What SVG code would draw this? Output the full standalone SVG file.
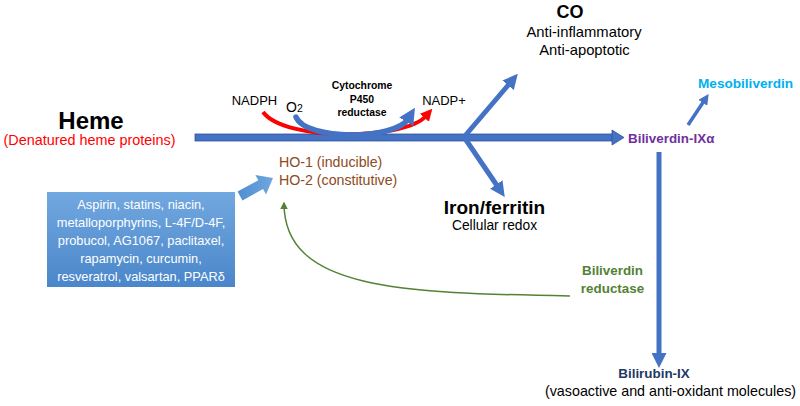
<svg xmlns="http://www.w3.org/2000/svg" width="800" height="406" viewBox="0 0 800 406">
<style>
text{font-family:"Liberation Sans",Arial,sans-serif;}
.b{font-weight:bold;}
.blk{fill:#000;}
.ho{fill:#8E4A1B;font-size:14.2px;}
.box{fill:#fff;font-size:12.8px;text-anchor:middle;}
.conn{stroke:#4472C4;fill:none;}
</style>
<defs>
<linearGradient id="gbox" x1="0" y1="0" x2="0" y2="1">
<stop offset="0" stop-color="#72A8E0"/>
<stop offset="1" stop-color="#4A86CA"/>
</linearGradient>
<linearGradient id="garr" x1="0" y1="0" x2="1" y2="0">
<stop offset="0" stop-color="#4F8FD2"/>
<stop offset="1" stop-color="#6FA7E0"/>
</linearGradient>
<marker id="ah" viewBox="0 0 10 10" refX="2" refY="5" markerWidth="3" markerHeight="3" orient="auto" markerUnits="strokeWidth">
<path d="M0,0 L10,5 L0,10 z" fill="#4472C4"/>
</marker>
<marker id="ahr" viewBox="0 0 10 10" refX="2" refY="5" markerWidth="3" markerHeight="3.2" orient="auto" markerUnits="strokeWidth">
<path d="M0,0 L10,5 L0,10 z" fill="#FF0000"/>
</marker>
<marker id="ahg" viewBox="0 0 10 10" refX="8" refY="5" markerWidth="5" markerHeight="5" orient="auto" markerUnits="strokeWidth">
<path d="M0,0 L10,5 L0,10 z" fill="#548235"/>
</marker>
</defs>

<g id="connectors">
<!-- main heme -> biliverdin arrow -->
<rect x="195" y="134" width="418" height="7" fill="#4472C4" stroke="#2F5597" stroke-width="0.8"/>
<polygon points="612,130 624,137.5 612,145" fill="#4472C4" stroke="#2F5597" stroke-width="0.8"/>
<!-- CO branch -->
<line class="conn" x1="464" y1="137" x2="510" y2="83" stroke-width="5" marker-end="url(#ah)"/>
<!-- iron branch -->
<line class="conn" x1="464" y1="137" x2="498" y2="187" stroke-width="5" marker-end="url(#ah)"/>
<!-- red NADPH -> NADP+ arc -->
<path d="M263,112 C285,142 405,140 426,116" fill="none" stroke="#FF0000" stroke-width="4" marker-end="url(#ahr)"/>
<!-- blue O2 arc -->
<path d="M296,117 C306,141 395,140 408,119" fill="none" stroke="#4472C4" stroke-width="5.5" stroke-linecap="round" marker-end="url(#ah)"/>
<!-- biliverdin -> bilirubin -->
<line class="conn" x1="659" y1="152" x2="659" y2="356" stroke-width="5" marker-end="url(#ah)"/>
<!-- biliverdin -> mesobiliverdin -->
<line class="conn" x1="688" y1="125" x2="704" y2="101" stroke-width="3.5" marker-end="url(#ah)"/>
<!-- drugs -> HO -->
<polygon points="237.6,191.6 258.3,180.3 255.4,175.0 273,178 266.0,194.4 263.1,189.1 242.4,200.4" fill="url(#garr)"/>
<!-- biliverdin reductase feedback -->
<path d="M570,296 C400,293 284,290 284,203" fill="none" stroke="#548235" stroke-width="1.5" marker-end="url(#ahg)"/>
</g>

<g id="heme">
<text x="91" y="129" class="b blk" font-size="24" text-anchor="middle">Heme</text>
<text x="89.5" y="145" fill="#FF0000" font-size="14.4" text-anchor="middle">(Denatured heme proteins)</text>
</g>

<g id="nadph"><text x="254.5" y="105" font-size="13" text-anchor="middle">NADPH</text></g>
<g id="o2"><text x="286" y="112" font-size="14">O<tspan font-size="10.5">2</tspan></text></g>
<g id="cyp">
<text x="362" y="89" class="b" font-size="10.4" text-anchor="middle">Cytochrome</text>
<text x="362" y="103" class="b" font-size="10.4" text-anchor="middle">P450</text>
<text x="362" y="116" class="b" font-size="10.4" text-anchor="middle">reductase</text>
</g>
<g id="nadp"><text x="444" y="105" font-size="13" text-anchor="middle">NADP+</text></g>

<g id="co">
<text x="570" y="18" class="b" font-size="18" text-anchor="middle">CO</text>
<text x="584" y="37" font-size="14.8" text-anchor="middle">Anti-inflammatory</text>
<text x="584.5" y="55" font-size="14.8" text-anchor="middle">Anti-apoptotic</text>
</g>

<g id="iron">
<text x="494.5" y="214" class="b" font-size="19" text-anchor="middle">Iron/ferritin</text>
<text x="494.5" y="230" font-size="13.8" text-anchor="middle">Cellular redox</text>
</g>

<g id="ho">
<text x="279" y="167" class="ho">HO-1 (inducible)</text>
<text x="279" y="185" class="ho">HO-2 (constitutive)</text>
</g>

<g id="drugs">
<rect x="47" y="192" width="188" height="95" fill="url(#gbox)"/>
<text class="box" x="141" y="209">Aspirin, statins, niacin,</text>
<text class="box" x="141" y="227">metalloporphyrins, L-4F/D-4F,</text>
<text class="box" x="141" y="245">probucol, AG1067, paclitaxel,</text>
<text class="box" x="141" y="263">rapamycin, curcumin,</text>
<text class="box" x="141" y="281">resveratrol, valsartan, PPARδ</text>
</g>

<g id="biliverdin">
<text x="628" y="143" class="b" fill="#7030A0" font-size="13.4">Biliverdin-IXα</text>
</g>

<g id="mesobiliverdin">
<text x="698" y="88" class="b" fill="#00B0F0" font-size="13.6">Mesobiliverdin</text>
</g>

<g id="bvr">
<text x="612.5" y="275" class="b" fill="#548235" font-size="13.4" text-anchor="middle">Biliverdin</text>
<text x="612.5" y="293" class="b" fill="#548235" font-size="13.4" text-anchor="middle">reductase</text>
</g>

<g id="bilirubin">
<text x="654" y="378" class="b" fill="#1F3864" font-size="13.4" text-anchor="middle">Bilirubin-IX</text>
<text x="670.5" y="396" font-size="14.3" text-anchor="middle">(vasoactive and anti-oxidant molecules)</text>
</g>
</svg>
